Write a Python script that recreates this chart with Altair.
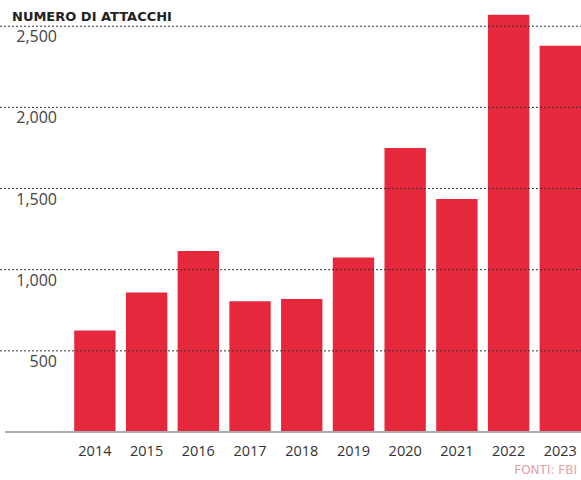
import altair as alt
import pandas as pd

years = ["2014", "2015", "2016", "2017", "2018", "2019", "2020", "2021", "2022", "2023"]
attacks = [626, 860, 1115, 805, 820, 1075, 1750, 1435, 2570, 2380]
grid_values = [500, 1000, 1500, 2000, 2500]
grid_labels = ["500", "1,000", "1,500", "2,000", "2,500"]
title_text = "NUMERO DI ATTACCHI"
source_text = "FONTI: FBI"

bars_df = pd.DataFrame({"anno": years, "attacchi": attacks})
grid_df = pd.DataFrame({"v": grid_values, "lab": grid_labels})

W, H = 513, 422
yscale = alt.Scale(domain=[0, 2600], nice=False, zero=True)

bars = alt.Chart(bars_df).mark_bar(color="#e5283c").encode(
    x=alt.X("anno:N", sort=years,
            scale=alt.Scale(paddingInner=0.2, paddingOuter=0.06, align=1),
            axis=alt.Axis(title=None, domain=False, ticks=False, labelAngle=0,
                          labelFont="Open Sans", labelFontSize=14.5, labelColor="#333",
                          labelPadding=12)),
    y=alt.Y("attacchi:Q", scale=yscale, axis=None),
)

base_line = alt.Chart(pd.DataFrame({"v": [0]})).mark_rule(color="#aaaaaa", strokeWidth=2).encode(
    y=alt.Y("v:Q", scale=yscale),
    x=alt.value(-63), x2=alt.value(W),
)

grid = alt.Chart(grid_df).mark_rule(color="#333", strokeWidth=1, strokeDash=[2, 2]).encode(
    y=alt.Y("v:Q", scale=yscale),
    x=alt.value(-68), x2=alt.value(W),
)

grid_text = alt.Chart(grid_df).mark_text(
    align="right", baseline="middle", dy=11, font="Open Sans", fontSize=16, color="#444"
).encode(
    y=alt.Y("v:Q", scale=yscale),
    x=alt.value(-11),
    text="lab:N",
)

title = alt.Chart(pd.DataFrame({"t": [title_text]})).mark_text(
    align="left", baseline="alphabetic", font="DejaVu Sans", fontSize=13, fontWeight="bold",
    color="#222"
).encode(x=alt.value(-56), y=alt.value(11), text="t:N")

source = alt.Chart(pd.DataFrame({"t": [source_text]})).mark_text(
    align="right", baseline="alphabetic", font="DejaVu Sans", fontSize=12,
    color="#e8a0a8"
).encode(x=alt.value(509), y=alt.value(H + 42), text="t:N")

chart = alt.layer(bars, base_line, grid, grid_text, title, source).properties(
    width=W, height=H,
    background="white",
    autosize=alt.AutoSizeParams(type="none"),
    padding={"left": 68, "top": 10, "right": 0, "bottom": 48},
).configure_view(stroke=None)

chart.save("out.html", embed_options={"renderer": "svg", "actions": False})
